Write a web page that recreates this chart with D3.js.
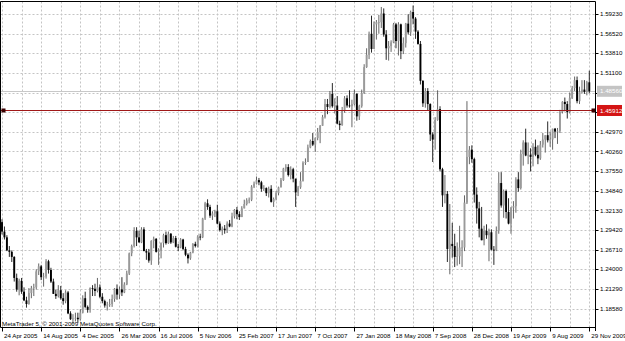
<!DOCTYPE html>
<html><head><meta charset="utf-8">
<script src="https://cdn.jsdelivr.net/npm/d3@7"></script>
<style>html,body{margin:0;padding:0;background:#fff;overflow:hidden}svg{display:block}</style>
</head><body><svg id="c" width="625" height="341"></svg>
<script>
// Weekly EURUSD bars, first bar = week of 24 Apr 2005, last = week of 29 Nov 2009
const opens = [
1.3050,1.2920,1.2840,1.2660,1.2640,1.2570,1.2280,1.2120,1.2240,1.2090,
1.1970,1.1920,1.2070,1.2140,1.2150,1.2370,1.2440,1.2290,1.2300,1.2510,
1.2390,1.2230,1.2060,1.2030,1.2110,1.2000,1.1960,1.2080,1.1790,1.1710,
1.1720,1.1730,1.1710,1.1800,1.2000,1.1880,1.1840,1.2140,1.2130,1.2100,
1.2150,1.2020,1.1960,1.1900,1.1910,1.1920,1.1990,1.2130,1.2050,1.2120,
1.2080,1.2190,1.2340,1.2620,1.2720,1.2930,1.2840,1.2770,1.2950,1.2650,
1.2630,1.2520,1.2790,1.2820,1.2640,1.2660,1.2760,1.2870,1.2760,1.2890,
1.2770,1.2830,1.2710,1.2700,1.2810,1.2680,1.2600,1.2550,1.2630,1.2750,
1.2720,1.2850,1.2840,1.3100,1.3310,1.3260,1.3140,1.3170,1.3200,1.3030,
1.2940,1.2960,1.2940,1.3030,1.2990,1.3130,1.3220,1.3160,1.3120,1.3240,
1.3300,1.3350,1.3360,1.3540,1.3580,1.3630,1.3600,1.3510,1.3520,1.3450,
1.3510,1.3330,1.3370,1.3450,1.3530,1.3630,1.3790,1.3810,1.3700,1.3780,
1.3650,1.3460,1.3530,1.3620,1.3870,1.3880,1.4080,1.4170,1.4120,1.4210,
1.4290,1.4380,1.4500,1.4680,1.4640,1.4820,1.4650,1.4660,1.4410,1.4390,
1.4590,1.4760,1.4660,1.4650,1.4680,1.4820,1.4510,1.4650,1.4830,1.5190,
1.5360,1.5650,1.5440,1.5780,1.5810,1.5810,1.5930,1.5640,1.5450,1.5480,
1.5530,1.5780,1.5550,1.5780,1.5410,1.5520,1.5790,1.5670,1.5950,1.5860,
1.5680,1.5510,1.5000,1.4690,1.4860,1.4680,1.4260,1.4190,1.4460,1.4610,
1.3780,1.3420,1.3440,1.2680,1.2750,1.2720,1.2570,1.2580,1.2700,1.2700,
1.3320,1.3950,1.4050,1.3920,1.3430,1.3240,1.2960,1.2800,1.2930,1.2870,
1.2910,1.2670,1.2660,1.2930,1.3590,1.3280,1.3480,1.3190,1.3030,1.3250,
1.3270,1.3640,1.3520,1.3990,1.4150,1.3970,1.3980,1.3950,1.4090,1.3980,
1.3930,1.4120,1.4190,1.4250,1.4180,1.4190,1.4340,1.4300,1.4310,1.4570,
1.4710,1.4680,1.4570,1.4760,1.4900,1.5010,1.4720,1.4850,1.4880,1.4850,
1.4980];
const highs = [
1.3090,1.2990,1.2870,1.2720,1.2660,1.2580,1.2340,1.2270,1.2280,1.2150,
1.2020,1.2140,1.2170,1.2200,1.2400,1.2480,1.2460,1.2350,1.2540,1.2530,
1.2420,1.2270,1.2120,1.2180,1.2170,1.2070,1.2110,1.2100,1.1820,1.1780,
1.1800,1.1800,1.1850,1.2040,1.2090,1.1900,1.2150,1.2180,1.2200,1.2280,
1.2190,1.2070,1.1980,1.1950,1.1990,1.2050,1.2140,1.2190,1.2160,1.2290,
1.2220,1.2380,1.2630,1.2740,1.2980,1.2980,1.2930,1.2980,1.2980,1.2680,
1.2680,1.2800,1.2850,1.2830,1.2690,1.2770,1.2890,1.2920,1.2920,1.2900,
1.2860,1.2860,1.2750,1.2830,1.2820,1.2710,1.2620,1.2640,1.2760,1.2780,
1.2870,1.2890,1.3110,1.3330,1.3365,1.3290,1.3200,1.3220,1.3290,1.3060,
1.2990,1.3010,1.3060,1.3080,1.3180,1.3230,1.3260,1.3200,1.3270,1.3360,
1.3380,1.3390,1.3560,1.3610,1.3680,1.3660,1.3620,1.3560,1.3530,1.3540,
1.3560,1.3390,1.3480,1.3540,1.3660,1.3800,1.3850,1.3850,1.3820,1.3800,
1.3650,1.3550,1.3740,1.3890,1.3930,1.4120,1.4190,1.4280,1.4220,1.4350,
1.4390,1.4530,1.4750,1.4750,1.4860,1.4970,1.4760,1.4790,1.4450,1.4640,
1.4790,1.4800,1.4870,1.4740,1.4880,1.4830,1.4670,1.4880,1.5230,1.5450,
1.5680,1.5900,1.5820,1.5840,1.5910,1.6020,1.6000,1.5700,1.5550,1.5560,
1.5800,1.5800,1.5810,1.5790,1.5600,1.5800,1.5920,1.5970,1.6040,1.5880,
1.5700,1.5550,1.5010,1.4900,1.4900,1.4690,1.4290,1.4500,1.4870,1.4650,
1.3800,1.3700,1.3480,1.3300,1.3040,1.2890,1.2770,1.3000,1.2800,1.3420,
1.4720,1.4100,1.4110,1.3940,1.3530,1.3330,1.3260,1.3000,1.3020,1.2960,
1.2950,1.2720,1.2990,1.3740,1.3740,1.3500,1.3500,1.3380,1.3260,1.3340,
1.3670,1.3740,1.4050,1.4180,1.4340,1.4150,1.4070,1.4140,1.4190,1.4110,
1.4170,1.4280,1.4250,1.4440,1.4300,1.4340,1.4350,1.4350,1.4600,1.4720,
1.4770,1.4720,1.4840,1.4930,1.5060,1.5060,1.4920,1.5010,1.5010,1.5000,
1.5140];
const lows = [
1.2880,1.2810,1.2650,1.2570,1.2500,1.2230,1.2090,1.2040,1.2060,1.1960,
1.1870,1.1910,1.2000,1.2030,1.2120,1.2320,1.2250,1.2160,1.2270,1.2340,
1.2210,1.2060,1.1990,1.2010,1.1980,1.1910,1.1930,1.1780,1.1700,1.1640,
1.1680,1.1660,1.1690,1.1790,1.1860,1.1800,1.1800,1.2030,1.2030,1.2080,
1.2000,1.1930,1.1870,1.1830,1.1880,1.1880,1.1950,1.1980,1.1990,1.2030,
1.2070,1.2180,1.2320,1.2580,1.2700,1.2720,1.2770,1.2760,1.2650,1.2530,
1.2490,1.2460,1.2690,1.2630,1.2460,1.2550,1.2700,1.2740,1.2750,1.2750,
1.2760,1.2700,1.2650,1.2690,1.2660,1.2580,1.2480,1.2530,1.2620,1.2700,
1.2700,1.2800,1.2830,1.3080,1.3220,1.3110,1.3080,1.3120,1.3020,1.2920,
1.2870,1.2890,1.2900,1.2980,1.2980,1.3100,1.3090,1.3080,1.3120,1.3240,
1.3280,1.3310,1.3340,1.3520,1.3570,1.3560,1.3470,1.3480,1.3410,1.3390,
1.3320,1.3260,1.3350,1.3420,1.3530,1.3620,1.3750,1.3680,1.3640,1.3600,
1.3260,1.3410,1.3510,1.3610,1.3840,1.3880,1.4070,1.4100,1.4020,1.4180,
1.4140,1.4380,1.4480,1.4540,1.4620,1.4630,1.4550,1.4400,1.4320,1.4380,
1.4560,1.4630,1.4630,1.4360,1.4660,1.4450,1.4460,1.4630,1.4820,1.5180,
1.5300,1.5390,1.5440,1.5570,1.5650,1.5730,1.5610,1.5290,1.5280,1.5400,
1.5520,1.5450,1.5350,1.5300,1.5370,1.5460,1.5640,1.5620,1.5780,1.5580,
1.5500,1.4950,1.4640,1.4630,1.4590,1.4170,1.3880,1.4050,1.4450,1.3750,
1.3260,1.3310,1.2500,1.2330,1.2560,1.2430,1.2450,1.2470,1.2430,1.2650,
1.3300,1.3850,1.3870,1.3320,1.3030,1.2840,1.2800,1.2730,1.2820,1.2510,
1.2660,1.2460,1.2650,1.2890,1.3250,1.3110,1.3100,1.3020,1.2890,1.3100,
1.3180,1.3470,1.3500,1.3830,1.3960,1.3850,1.3750,1.3820,1.3960,1.3850,
1.3910,1.4080,1.4010,1.4150,1.4090,1.4050,1.4210,1.4130,1.4280,1.4550,
1.4580,1.4480,1.4550,1.4750,1.4860,1.4690,1.4680,1.4830,1.4820,1.4800,
1.4830];
const closes = [
1.2920,1.2840,1.2660,1.2640,1.2570,1.2280,1.2120,1.2240,1.2090,1.1970,
1.1920,1.2070,1.2140,1.2150,1.2370,1.2440,1.2290,1.2300,1.2510,1.2390,
1.2230,1.2060,1.2030,1.2110,1.2000,1.1960,1.2080,1.1790,1.1710,1.1720,
1.1730,1.1710,1.1800,1.2000,1.1880,1.1840,1.2140,1.2130,1.2100,1.2150,
1.2020,1.1960,1.1900,1.1910,1.1920,1.1990,1.2130,1.2050,1.2120,1.2080,
1.2190,1.2340,1.2620,1.2720,1.2930,1.2840,1.2770,1.2950,1.2650,1.2630,
1.2520,1.2790,1.2820,1.2640,1.2660,1.2760,1.2870,1.2760,1.2890,1.2770,
1.2830,1.2710,1.2700,1.2810,1.2680,1.2600,1.2550,1.2630,1.2750,1.2720,
1.2850,1.2840,1.3100,1.3310,1.3260,1.3140,1.3170,1.3200,1.3030,1.2940,
1.2960,1.2940,1.3030,1.2990,1.3130,1.3220,1.3160,1.3120,1.3240,1.3300,
1.3350,1.3360,1.3540,1.3580,1.3630,1.3600,1.3510,1.3520,1.3450,1.3510,
1.3330,1.3370,1.3450,1.3530,1.3630,1.3790,1.3810,1.3700,1.3780,1.3650,
1.3460,1.3530,1.3620,1.3870,1.3880,1.4080,1.4170,1.4120,1.4210,1.4290,
1.4380,1.4500,1.4680,1.4640,1.4820,1.4650,1.4660,1.4410,1.4390,1.4590,
1.4760,1.4660,1.4650,1.4680,1.4820,1.4510,1.4650,1.4830,1.5190,1.5360,
1.5650,1.5440,1.5780,1.5810,1.5810,1.5930,1.5640,1.5450,1.5480,1.5530,
1.5780,1.5550,1.5780,1.5410,1.5520,1.5790,1.5670,1.5950,1.5860,1.5680,
1.5510,1.5000,1.4690,1.4860,1.4680,1.4260,1.4190,1.4460,1.4610,1.3780,
1.3420,1.3440,1.2680,1.2750,1.2720,1.2570,1.2580,1.2700,1.2700,1.3320,
1.3950,1.4050,1.3920,1.3430,1.3240,1.2960,1.2800,1.2930,1.2870,1.2910,
1.2670,1.2660,1.2930,1.3590,1.3280,1.3480,1.3190,1.3030,1.3250,1.3270,
1.3640,1.3520,1.3990,1.4150,1.3970,1.3980,1.3950,1.4090,1.3980,1.3930,
1.4120,1.4190,1.4250,1.4180,1.4190,1.4340,1.4300,1.4310,1.4570,1.4710,
1.4680,1.4570,1.4760,1.4900,1.5010,1.4720,1.4850,1.4880,1.4850,1.4980,
1.4856];

const timeLabels = ["24 Apr 2005","14 Aug 2005","4 Dec 2005","26 Mar 2006","16 Jul 2006","5 Nov 2006",
  "25 Feb 2007","17 Jun 2007","7 Oct 2007","27 Jan 2008","18 May 2008","7 Sep 2008",
  "28 Dec 2008","19 Apr 2009","9 Aug 2009","29 Nov 2009"];
const barsPerLabel = 16;
const barsPerGrid = 8;
const priceTicks = [1.18580,1.21290,1.24000,1.26710,1.29420,1.32130,1.34840,1.37550,
  1.40260,1.42970,1.45680,1.48390,1.51100,1.53810,1.56520,1.59230];
const hiddenTickLabels = [1.45680,1.48390];
const bidPrice = 1.48560;
const levelPrice = 1.45912;
const watermark = "MetaTrader 5, \u00A9 2001-2009 MetaQuotes Software Corp.";

const W = 625, H = 341;
const L = 0.5, R = 595.5, T = 1.5, B = 327.5;
const font = "Tahoma, 'Liberation Sans', Arial, sans-serif";
const n = closes.length;

const svg = d3.select("#c");
const x = d3.scaleLinear().domain([0, n - 1]).range([2, 589.3]);
const y = d3.scaleLinear().domain([1.1858, 1.5923]).range([308.5, 14]);
const px = v => Math.round(v) + 0.5;

svg.append("defs").append("clipPath").attr("id", "plot")
  .append("rect").attr("x", L).attr("y", T).attr("width", R - L).attr("height", B - T);

// grid
const grid = svg.append("g").attr("stroke", "#c4c4c4").attr("stroke-width", 1).attr("stroke-dasharray", "2,2");
grid.selectAll("line.h").data(priceTicks).join("line")
  .attr("x1", L).attr("x2", R).attr("y1", d => px(y(d))).attr("y2", d => px(y(d)));
grid.selectAll("line.v").data(d3.range(0, n, barsPerGrid)).join("line")
  .attr("y1", T).attr("y2", B).attr("x1", d => px(x(d))).attr("x2", d => px(x(d)));

// bid line
svg.append("line").attr("x1", L).attr("x2", R).attr("y1", px(y(bidPrice))).attr("y2", px(y(bidPrice)))
  .attr("stroke", "#c8c8c8");

// candles
const idx = d3.range(n);
const cg = svg.append("g").attr("clip-path", "url(#plot)");
cg.selectAll("line.w").data(idx).join("line")
  .attr("x1", i => x(i)).attr("x2", i => x(i))
  .attr("y1", i => y(highs[i])).attr("y2", i => y(lows[i]))
  .attr("stroke", i => closes[i] >= opens[i] ? "#555" : "#111").attr("stroke-width", 0.9);
cg.selectAll("rect.b").data(idx).join("rect")
  .attr("x", i => x(i) - 0.95).attr("width", 1.9)
  .attr("y", i => y(Math.max(opens[i], closes[i])))
  .attr("height", i => Math.max(0.8, Math.abs(y(opens[i]) - y(closes[i]))))
  .attr("fill", i => closes[i] >= opens[i] ? "#9a9a9a" : "#000");

// horizontal level line
svg.append("line").attr("x1", L).attr("x2", R).attr("y1", px(y(levelPrice))).attr("y2", px(y(levelPrice)))
  .attr("stroke", "#a01818").attr("stroke-width", 1);
svg.append("rect").attr("x", 1.5).attr("y", y(levelPrice) - 2).attr("width", 4).attr("height", 4).attr("fill", "#3a0000");
svg.append("rect").attr("x", 591.5).attr("y", y(levelPrice) - 2).attr("width", 4).attr("height", 4).attr("fill", "#3a0000");

// frame
const frame = svg.append("g").attr("stroke", "#000").attr("stroke-width", 1).attr("fill", "none");
frame.append("path").attr("d", `M${L},${B}V${T}H${R}V${B + 3.5}M${L},${B}H${R}`);

// right axis ticks and labels
svg.append("g").selectAll("line").data(priceTicks).join("line")
  .attr("x1", R).attr("x2", R + 3).attr("y1", d => px(y(d))).attr("y2", d => px(y(d)))
  .attr("stroke", "#000");
svg.append("g").selectAll("text").data(priceTicks.filter(t => !hiddenTickLabels.includes(t))).join("text")
  .attr("x", 600).attr("y", d => y(d)).attr("dy", "0.35em")
  .attr("font-family", font).attr("font-size", 6.2).attr("fill", "#000")
  .text(d => d.toFixed(5));

// price boxes
function priceBox(v, fill) {
  const g = svg.append("g");
  g.append("rect").attr("x", 597).attr("y", y(v) - 5.5).attr("width", 25).attr("height", 11).attr("fill", fill);
  g.append("text").attr("x", 600).attr("y", y(v)).attr("dy", "0.35em")
    .attr("font-family", font).attr("font-size", 6.2).attr("fill", "#fff").text(v.toFixed(5));
}
priceBox(bidPrice, "#c4c4c4");
priceBox(levelPrice, "#d41414");

// time axis
const tIdx = timeLabels.map((t, k) => k * barsPerLabel);
svg.append("g").selectAll("line").data(tIdx).join("line")
  .attr("x1", d => px(x(d))).attr("x2", d => px(x(d))).attr("y1", B).attr("y2", B + 4)
  .attr("stroke", "#000");
svg.append("g").selectAll("text").data(timeLabels).join("text")
  .attr("x", (d, k) => x(tIdx[k]) + 2).attr("y", 337.5)
  .attr("font-family", font).attr("font-size", 6.2).attr("fill", "#000")
  .text(d => d);

// watermark
svg.append("text").attr("x", 2).attr("y", 325.5).attr("font-family", font).attr("font-size", 6.2)
  .attr("fill", "#000").text(watermark);
</script>
</body></html>
